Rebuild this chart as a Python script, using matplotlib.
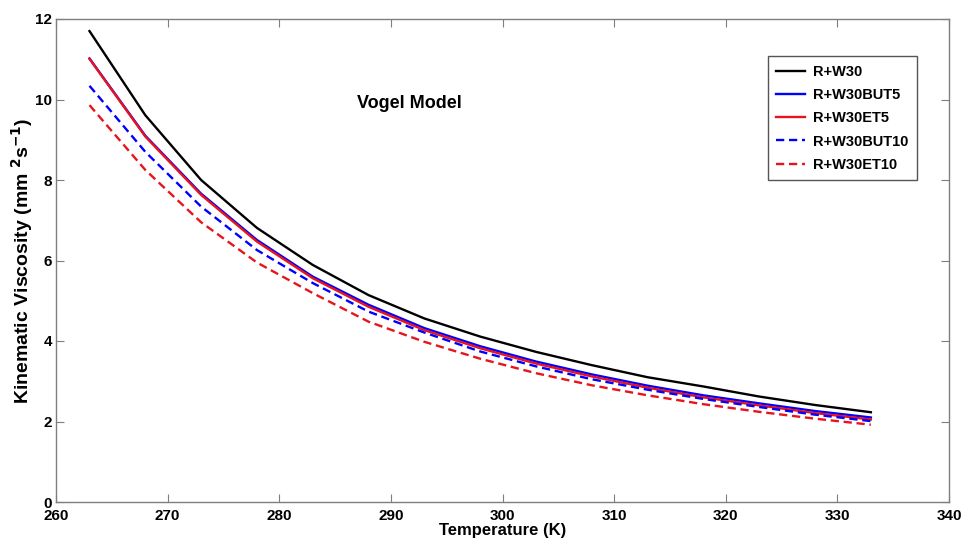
import matplotlib
matplotlib.use("Agg")
import matplotlib.pyplot as plt

plt.rcParams['font.family'] = ['Liberation Sans', 'DejaVu Sans']
plt.rcParams['font.weight'] = 'bold'
plt.rcParams['mathtext.default'] = 'regular'

temperature = [263, 268, 273, 278, 283, 288, 293, 298, 303, 308, 313, 318, 323, 328, 333]

rw30 = [11.70, 9.61, 8.00, 6.81, 5.89, 5.14, 4.56, 4.11, 3.73, 3.40, 3.10, 2.87, 2.62, 2.41, 2.23]
rw30but5 = [11.02, 9.10, 7.66, 6.51, 5.60, 4.90, 4.32, 3.87, 3.49, 3.17, 2.89, 2.65, 2.45, 2.26, 2.10]
rw30et5 = [11.01, 9.08, 7.63, 6.47, 5.56, 4.85, 4.27, 3.82, 3.44, 3.12, 2.84, 2.60, 2.40, 2.21, 2.05]
rw30but10 = [10.34, 8.70, 7.34, 6.26, 5.44, 4.73, 4.21, 3.74, 3.37, 3.05, 2.79, 2.56, 2.36, 2.17, 2.01]
rw30et10 = [9.86, 8.25, 6.95, 5.95, 5.19, 4.48, 3.98, 3.56, 3.20, 2.90, 2.65, 2.43, 2.24, 2.07, 1.92]

series = [
    ("R+W30", rw30, "black", "-"),
    ("R+W30BUT5", rw30but5, "blue", "-"),
    ("R+W30ET5", rw30et5, "#e8141c", "-"),
    ("R+W30BUT10", rw30but10, "blue", "--"),
    ("R+W30ET10", rw30et10, "#e8141c", "--"),
]

fig = plt.figure(figsize=(9.63, 5.39), dpi=100)
ax = fig.add_axes([56 / 963, 1 - 502 / 539, (949 - 56) / 963, (502 - 19) / 539])

for name, vals, color, ls in series:
    ax.plot(temperature, vals, color=color, linestyle=ls, linewidth=1.7, label=name,
            dashes=(3.5, 2) if ls == "--" else (None, None))

ax.set_xlim(260, 340)
ax.set_ylim(0, 12)
ax.set_xticks(range(260, 341, 10))
ax.set_yticks(range(0, 13, 2))

for sp in ax.spines.values():
    sp.set_color("#7f7f7f")
    sp.set_linewidth(1)
ax.tick_params(direction="in", top=True, right=True, length=6, color="#7f7f7f",
               labelsize=11, labelcolor="black")
ax.tick_params(axis="x", pad=5)
ax.tick_params(axis="y", pad=3)
for lab in ax.get_xticklabels() + ax.get_yticklabels():
    lab.set_fontweight("bold")

ax.set_xlabel("Temperature (K)", fontsize=12, fontweight="bold", labelpad=0)
ax.set_ylabel(r"Kinematic Viscosity (mm $^{\mathbf{2}}$s$^{\mathbf{-1}}$)",
              fontsize=14, fontweight="bold", labelpad=0)

ax.text(291.7, 9.89, "Vogel Model", fontsize=13, fontweight="bold", ha="center", va="center")

leg = ax.legend(loc="upper right", bbox_to_anchor=(0.964, 0.923), borderaxespad=0,
                fancybox=False, edgecolor="#555555", framealpha=1, handlelength=2.0,
                labelspacing=0.63, borderpad=0.6, handletextpad=0.5,
                prop={"weight": "bold", "size": 10.5})
leg.get_frame().set_linewidth(1)

fig.savefig("out.png", dpi=100)
